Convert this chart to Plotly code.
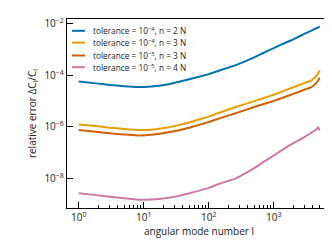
import plotly.graph_objects as go

ell = [1, 2, 3, 5, 8, 13, 24, 35, 50, 100, 150, 260, 500, 700, 1000, 1400, 2000, 3000, 3800, 4500, 4800, 5100]

err_tol4_n2 = [5.75e-5, 4.79e-5, 4.27e-5, 3.80e-5, 3.55e-5, 3.72e-5, 4.57e-5, 5.62e-5, 7.08e-5, 1.12e-4,
               1.58e-4, 2.51e-4, 5.01e-4, 7.59e-4, 1.15e-3, 1.70e-3, 2.51e-3, 4.17e-3, 5.50e-3, 6.76e-3,
               7.24e-3, 7.94e-3]
err_tol4_n3 = [1.23e-6, 1.05e-6, 9.33e-7, 8.32e-7, 7.59e-7, 7.76e-7, 9.77e-7, 1.17e-6, 1.48e-6, 2.51e-6,
               3.63e-6, 5.89e-6, 1.00e-5, 1.32e-5, 1.78e-5, 2.45e-5, 3.47e-5, 5.13e-5, 6.46e-5, 9.55e-5,
               1.20e-4, 1.55e-4]
err_tol5_n3 = [7.59e-7, 6.31e-7, 5.62e-7, 5.01e-7, 4.68e-7, 4.90e-7, 6.17e-7, 7.41e-7, 9.33e-7, 1.55e-6,
               2.19e-6, 3.39e-6, 5.89e-6, 7.76e-6, 1.02e-5, 1.38e-5, 1.91e-5, 2.82e-5, 3.47e-5, 5.01e-5,
               6.31e-5, 8.13e-5]
err_tol5_n4 = [2.63e-9, 2.19e-9, 1.95e-9, 1.70e-9, 1.48e-9, 1.51e-9, 1.78e-9, 2.09e-9, 2.63e-9, 4.27e-9,
               6.31e-9, 1.00e-8, 2.51e-8, 4.37e-8, 7.76e-8, 1.35e-7, 2.34e-7, 4.07e-7, 6.03e-7, 7.94e-7,
               9.77e-7, 7.24e-7]

labels = ["tolerance = 10<sup>−4</sup>, n = 2 N",
          "tolerance = 10<sup>−4</sup>, n = 3 N",
          "tolerance = 10<sup>−5</sup>, n = 3 N",
          "tolerance = 10<sup>−5</sup>, n = 4 N"]
colors = ["#0072B2", "#E69F00", "#D55E00", "#CC79A7"]
series = [err_tol4_n2, err_tol4_n3, err_tol5_n3, err_tol5_n4]

x_tickvals = [1, 10, 100, 1000]
x_ticktext = ["10<sup>0</sup>", "10<sup>1</sup>", "10<sup>2</sup>", "10<sup>3</sup>"]
y_tickvals = [1e-8, 1e-6, 1e-4, 1e-2]
y_ticktext = ["10<sup>−8</sup>", "10<sup>−6</sup>", "10<sup>−4</sup>", "10<sup>−2</sup>"]

FONT = "Open Sans"
fig = go.Figure()
for vals, c, lab in zip(series, colors, labels):
    fig.add_trace(go.Scatter(x=ell, y=vals, mode="lines", name=lab,
                             line=dict(color=c, width=2, shape="spline", smoothing=0.3),
                             showlegend=False))

# manual legend
row_y = [0.9375, 0.875, 0.807, 0.745]
for yy, c, lab in zip(row_y, colors, labels):
    fig.add_shape(type="line", xref="paper", yref="paper", x0=0.019, x1=0.068, y0=yy, y1=yy,
                  line=dict(color=c, width=2))
    fig.add_annotation(xref="paper", yref="paper", x=0.091, y=yy, text=lab, showarrow=False,
                       xanchor="left", yanchor="middle", font=dict(family=FONT, size=8.3, color="#222"))

fig.update_layout(
    width=332, height=248,
    margin=dict(l=59, r=9, t=8, b=48),
    paper_bgcolor="white", plot_bgcolor="white",
    font=dict(family=FONT, size=10, color="#222"),
)
fig.update_xaxes(type="log", range=[-0.18, 3.88], showgrid=False, zeroline=False,
                 showline=True, mirror=True, linecolor="black", linewidth=1.3,
                 ticks="inside", ticklen=6, tickcolor="black", tickwidth=1.2,
                 tickvals=x_tickvals, ticktext=x_ticktext, tickfont=dict(size=10),
                 minor=dict(ticks="inside", ticklen=3, tickcolor="black", tickwidth=0.8,
                            tickvals=[2,3,4,5,6,7,8,9,20,30,40,50,60,70,80,90,200,300,400,500,600,700,800,900,2000,3000,4000,5000,6000,7000]),
                 title=dict(text="angular mode number l", font=dict(size=10), standoff=4))
fig.update_yaxes(type="log", range=[-9.15, -1.81], showgrid=False, zeroline=False,
                 showline=True, mirror=True, linecolor="black", linewidth=1.3,
                 ticks="inside", ticklen=6, tickcolor="black", tickwidth=1.2,
                 tickvals=y_tickvals, ticktext=y_ticktext, tickfont=dict(size=10),
                 title=dict(text="relative error ΔC<sub>l</sub>/C<sub>l</sub>", font=dict(size=10), standoff=5))

fig.write_html("out.html")
